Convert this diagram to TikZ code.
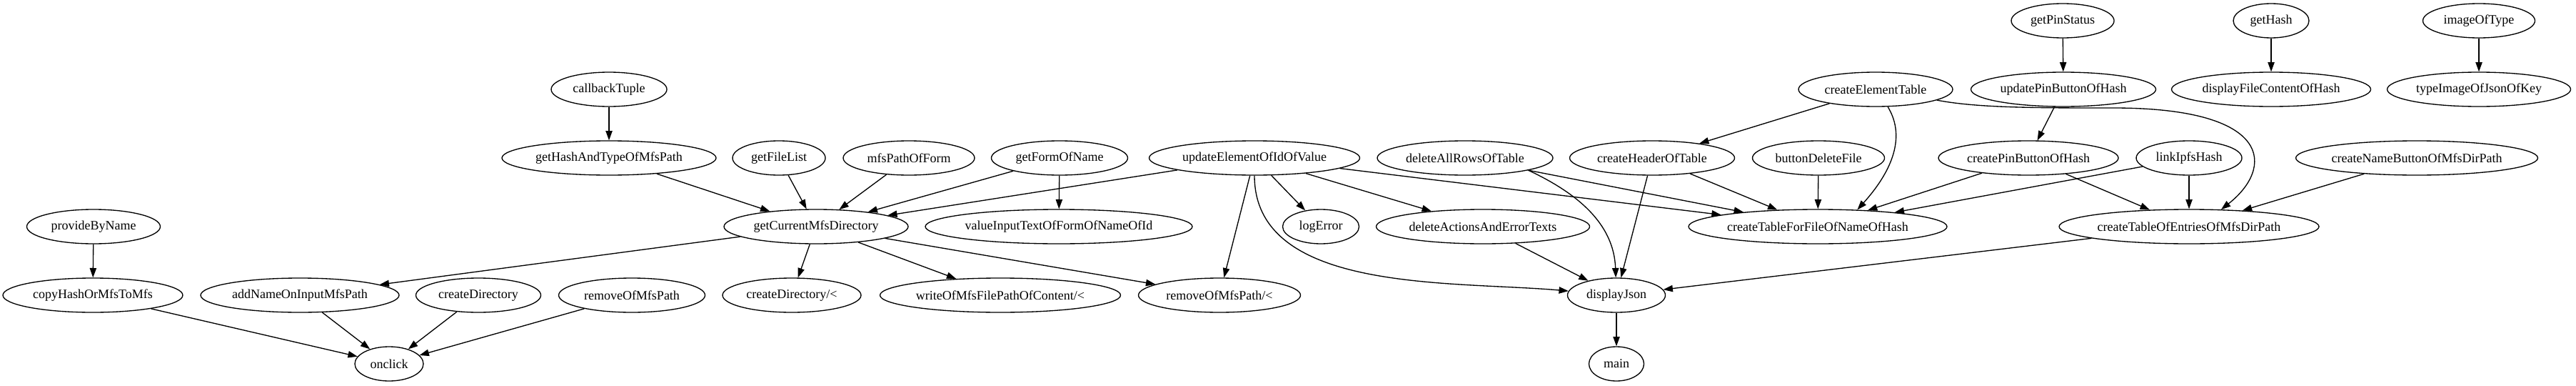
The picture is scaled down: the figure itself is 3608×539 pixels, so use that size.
\documentclass[tikz,border=0pt]{standalone}
\usepackage{fontspec}
\setmainfont{Liberation Serif}
\usetikzlibrary{arrows.meta,shapes.geometric}

\begin{document}
\begin{tikzpicture}[x=0.75pt,y=-0.75pt,>={Triangle[length=10pt,width=7pt]},line width=1pt,
  fn/.style={draw,ellipse,inner sep=0pt,minimum height=36pt,minimum width=#1*0.75pt,
    font=\fontsize{13.5}{16}\selectfont}]
  \useasboundingbox (0,0) rectangle (3608,539);
  % rank 0
  \node[fn=144] (getPinStatus) at (2889,29) {getPinStatus};
  \node[fn=106] (getHash) at (3181,29) {getHash};
  \node[fn=157] (imageOfType) at (3472,29) {imageOfType};
  % rank 1
  \node[fn=162] (callbackTuple) at (853,125) {callbackTuple};
  \node[fn=216] (createElementTable) at (2627,125) {createElementTable};
  \node[fn=259] (updatePinButtonOfHash) at (2890,125) {updatePinButtonOfHash};
  \node[fn=279] (displayFileContentOfHash) at (3181,125) {displayFileContentOfHash};
  \node[fn=257] (typeImageOfJsonOfKey) at (3472,125) {typeImageOfJsonOfKey};
  % rank 2
  \node[fn=300] (getHashAndTypeOfMfsPath) at (853,221) {getHashAndTypeOfMfsPath};
  \node[fn=130] (getFileList) at (1091,221) {getFileList};
  \node[fn=184] (mfsPathOfForm) at (1273,221) {mfsPathOfForm};
  \node[fn=191] (getFormOfName) at (1484,221) {getFormOfName};
  \node[fn=295] (updateElementOfIdOfValue) at (1757,221) {updateElementOfIdOfValue};
  \node[fn=246] (deleteAllRowsOfTable) at (2052,221) {deleteAllRowsOfTable};
  \node[fn=231] (createHeaderOfTable) at (2314,221) {createHeaderOfTable};
  \node[fn=185] (buttonDeleteFile) at (2547,221) {buttonDeleteFile};
  \node[fn=252] (createPinButtonOfHash) at (2841,221) {createPinButtonOfHash};
  \node[fn=148] (linkIpfsHash) at (3066,221) {linkIpfsHash};
  \node[fn=339] (createNameButtonOfMfsDirPath) at (3385,221) {createNameButtonOfMfsDirPath};
  % rank 3
  \node[fn=187] (provideByName) at (131,317) {provideByName};
  \node[fn=258] (getCurrentMfsDirectory) at (1143,317) {getCurrentMfsDirectory};
  \node[fn=374] (valueInputTextOfFormOfNameOfId) at (1483,317) {valueInputTextOfFormOfNameOfId};
  \node[fn=107] (logError) at (1850,317) {logError};
  \node[fn=299] (deleteActionsAndErrorTexts) at (2077,317) {deleteActionsAndErrorTexts};
  \node[fn=362] (createTableForFileOfNameOfHash) at (2546,317) {createTableForFileOfNameOfHash};
  \node[fn=364] (createTableOfEntriesOfMfsDirPath) at (3066,317) {createTableOfEntriesOfMfsDirPath};
  % rank 4
  \node[fn=252] (copyHashOrMfsToMfs) at (130,413) {copyHashOrMfsToMfs};
  \node[fn=278] (addNameOnInputMfsPath) at (420,413) {addNameOnInputMfsPath};
  \node[fn=175] (createDirectory) at (670,413) {createDirectory};
  \node[fn=205] (removeOfMfsPath) at (885,413) {removeOfMfsPath};
  \node[fn=194] (createDirectoryLt) at (1109,413) {createDirectory/<};
  \node[fn=337] (writeOfMfsFilePathLt) at (1401,413) {writeOfMfsFilePathOfContent/<};
  \node[fn=227] (removeOfMfsPathLt) at (1708,413) {removeOfMfsPath/<};
  \node[fn=137] (displayJson) at (2264,413) {displayJson};
  % rank 5
  \node[fn=96] (onclick) at (545,509) {onclick};
  \node[fn=77] (main) at (2264,509) {main};

  % calls
  \draw[->] (getPinStatus) -- (updatePinButtonOfHash);
  \draw[->] (getHash) -- (displayFileContentOfHash);
  \draw[->] (imageOfType) -- (typeImageOfJsonOfKey);
  \draw[->] (callbackTuple) -- (getHashAndTypeOfMfsPath);
  \draw[->] (getHashAndTypeOfMfsPath) -- (getCurrentMfsDirectory);
  \draw[->] (getFileList) -- (getCurrentMfsDirectory);
  \draw[->] (mfsPathOfForm) -- (getCurrentMfsDirectory);
  \draw[->] (getFormOfName) -- (getCurrentMfsDirectory);
  \draw[->] (getFormOfName) -- (valueInputTextOfFormOfNameOfId);
  \draw[->] (updateElementOfIdOfValue) -- (getCurrentMfsDirectory);
  \draw[->] (updateElementOfIdOfValue) -- (removeOfMfsPathLt);
  \draw[->] (updateElementOfIdOfValue) -- (logError);
  \draw[->] (updateElementOfIdOfValue) -- (deleteActionsAndErrorTexts);
  \draw[->] (updateElementOfIdOfValue) -- (createTableForFileOfNameOfHash);
  \draw[->] (updateElementOfIdOfValue) to[out=-90,in=175,looseness=0.9] (displayJson);
  \draw[->] (deleteAllRowsOfTable) -- (createTableForFileOfNameOfHash);
  \draw[->] (deleteAllRowsOfTable.-11) to[out=-25,in=92] (displayJson);
  \draw[->] (createHeaderOfTable) -- (displayJson);
  \draw[->] (createHeaderOfTable) -- (createTableForFileOfNameOfHash);
  \draw[->] (createElementTable) -- (createHeaderOfTable);
  \draw[->] (createElementTable.-55) .. controls (2672,195) and (2645,245)
    .. (createTableForFileOfNameOfHash.23);
  \draw[->] (createElementTable.-10) .. controls (2770,151) and (2850,151) .. (2960,151)
    .. controls (3185,151) and (3185,235) .. (createTableOfEntriesOfMfsDirPath.28);
  \draw[->] (buttonDeleteFile) -- (createTableForFileOfNameOfHash);
  \draw[->] (updatePinButtonOfHash) -- (createPinButtonOfHash);
  \draw[->] (createPinButtonOfHash) -- (createTableForFileOfNameOfHash);
  \draw[->] (createPinButtonOfHash) -- (createTableOfEntriesOfMfsDirPath);
  \draw[->] (linkIpfsHash) -- (createTableForFileOfNameOfHash);
  \draw[->] (linkIpfsHash) -- (createTableOfEntriesOfMfsDirPath);
  \draw[->] (createNameButtonOfMfsDirPath) -- (createTableOfEntriesOfMfsDirPath);
  \draw[->] (createTableOfEntriesOfMfsDirPath) -- (displayJson);
  \draw[->] (deleteActionsAndErrorTexts) -- (displayJson);
  \draw[->] (displayJson) -- (main);
  \draw[->] (getCurrentMfsDirectory) -- (addNameOnInputMfsPath);
  \draw[->] (getCurrentMfsDirectory) -- (createDirectoryLt);
  \draw[->] (getCurrentMfsDirectory) -- (writeOfMfsFilePathLt);
  \draw[->] (getCurrentMfsDirectory) -- (removeOfMfsPathLt);
  \draw[->] (provideByName) -- (copyHashOrMfsToMfs);
  \draw[->] (copyHashOrMfsToMfs) -- (onclick);
  \draw[->] (addNameOnInputMfsPath) -- (onclick);
  \draw[->] (createDirectory) -- (onclick);
  \draw[->] (removeOfMfsPath) -- (onclick);
\end{tikzpicture}
\end{document}
